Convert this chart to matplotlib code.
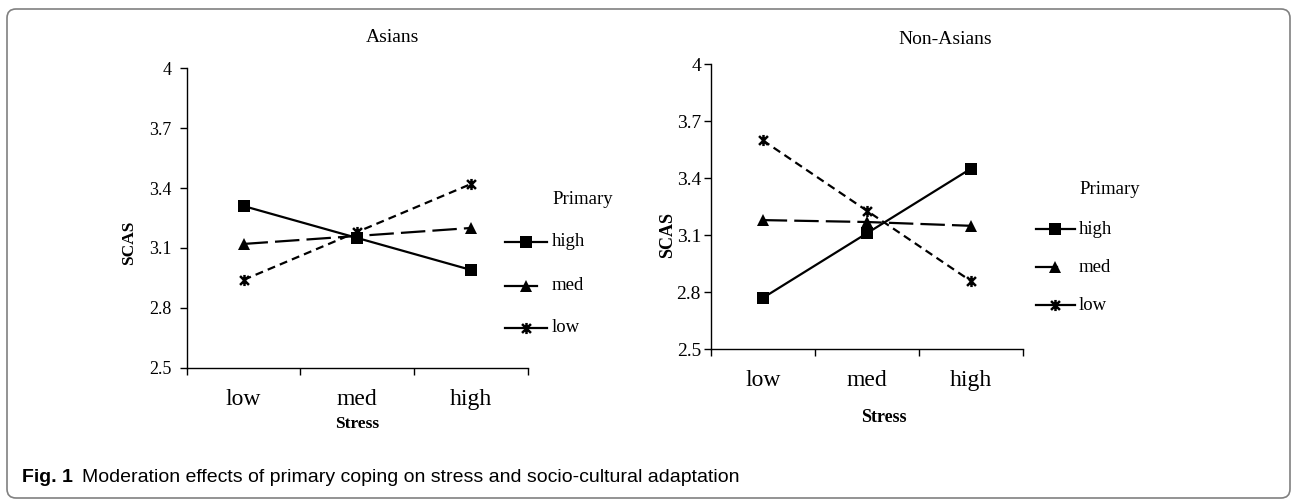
import matplotlib
matplotlib.use("Agg")
import matplotlib.pyplot as plt
from matplotlib.lines import Line2D
from matplotlib.patches import FancyBboxPatch
from matplotlib.path import Path
from matplotlib.transforms import IdentityTransform

# ---------------- data ----------------
stress_levels = ["low", "med", "high"]
primary_levels = ["high", "med", "low"]

asian_high = [3.31, 3.15, 2.99]
asian_med = [3.12, 3.16, 3.20]
asian_low = [2.94, 3.18, 3.42]

nonasian_high = [2.77, 3.11, 3.45]
nonasian_med = [3.18, 3.17, 3.15]
nonasian_low = [3.60, 3.23, 2.86]

y_ticks = [2.5, 2.8, 3.1, 3.4, 3.7, 4.0]
y_tick_labels = ["2.5", "2.8", "3.1", "3.4", "3.7", "4"]

# ---------------- styles ----------------
W, H = 1292, 501
SERIF = "Liberation Serif"
CAP_FONT = "Liberation Sans"

star = Path([(-1, -1), (1, 1), (-1, 1), (1, -1), (0, -1.25), (0, 1.25)],
            [Path.MOVETO, Path.LINETO, Path.MOVETO, Path.LINETO, Path.MOVETO, Path.LINETO])

LW = 1.6
styles = {
    "high": dict(ls="-", marker="s", ms=8, mew=0),
    "med": dict(dashes=(11, 3.2), marker="^", ms=9, mew=0),
    "low": dict(dashes=(3.6, 2.3), marker=star, ms=8, mew=1.8),
}

fig = plt.figure(figsize=(W / 100, H / 100), dpi=100)
plt.rcParams["font.family"] = SERIF


def px_rect(x0, x1, ytop, ybot):
    return [x0 / W, 1 - ybot / H, (x1 - x0) / W, (ybot - ytop) / H]


def draw_panel(rect, series, title_xy, ylabel_xy, xlabel_xy, legend, lab_font,
               ytick_font, ytick_pad, xtick_pad):
    ax = fig.add_axes(rect)
    xs = [i + 0.5 for i in range(len(stress_levels))]
    for name, vals in zip(primary_levels, series):
        st = dict(styles[name])
        ax.plot(xs, vals, color="black", lw=LW, mfc="black", mec="black", **st)
    ax.set_xlim(0, len(stress_levels))
    ax.set_ylim(2.5, 4.0)
    ax.set_yticks(y_ticks)
    ax.set_yticklabels(y_tick_labels, fontsize=ytick_font, fontfamily=SERIF)
    ax.set_xticks(range(len(stress_levels) + 1))
    ax.set_xticklabels([])
    ax.set_xticks(xs, minor=True)
    ax.set_xticklabels(stress_levels, minor=True, fontsize=17, fontfamily=SERIF)
    ax.tick_params(axis="x", which="minor", length=0, pad=xtick_pad)
    ax.tick_params(axis="x", which="major", length=5, width=1, direction="out")
    ax.tick_params(axis="y", length=5, width=1, pad=ytick_pad)
    for s in ("top", "right"):
        ax.spines[s].set_visible(False)
    for s in ("left", "bottom"):
        ax.spines[s].set_linewidth(1)
    # titles and labels
    fig.text(title_xy[0] / W, 1 - title_xy[1] / H, title_xy[2], ha="center", va="center",
             fontsize=14, fontfamily=SERIF)
    fig.text(ylabel_xy[0] / W, 1 - ylabel_xy[1] / H, "SCAS", rotation=90, ha="center",
             va="center", fontsize=lab_font, fontweight="bold", fontfamily=SERIF)
    fig.text(xlabel_xy[0] / W, 1 - xlabel_xy[1] / H, "Stress", ha="center", va="center",
             fontsize=lab_font, fontweight="bold", fontfamily=SERIF)
    # legend (drawn by hand to mirror the Excel legend)
    lx0, lx1, lx1_med, mx, tx, rows = legend
    fig.text(tx / W, 1 - rows[0] / H, "Primary", ha="left", va="center", fontsize=13.5,
             fontfamily=SERIF)
    for name, y in zip(primary_levels, rows[1:]):
        st = styles[name]
        end = lx1_med if name == "med" else lx1
        fig.add_artist(Line2D([lx0 / W, end / W], [1 - y / H, 1 - y / H], color="black",
                              lw=LW, transform=fig.transFigure))
        fig.add_artist(Line2D([mx / W], [1 - y / H], color="black", marker=st["marker"],
                              ms=st["ms"], mew=st["mew"], mfc="black", mec="black",
                              transform=fig.transFigure))
        fig.text(tx / W, 1 - y / H, name, ha="left", va="center", fontsize=13.5,
                 fontfamily=SERIF)
    return ax


draw_panel(px_rect(186.7, 527.7, 68.3, 367.7),
           [asian_high, asian_med, asian_low],
           (392, 37, "Asians"), (129, 243), (357, 424),
           (505, 547, 537, 526, 552, [200, 242, 286, 328]), 12.5,
           13, 6, 15)

draw_panel(px_rect(710.7, 1022.7, 64.3, 349.3),
           [nonasian_high, nonasian_med, nonasian_low],
           (945, 40, "Non-Asians"), (668, 235), (884, 418),
           (1036, 1075, 1057, 1055, 1079, [190, 229, 267, 305]), 13,
           14, 2, 15)

# caption
t1 = fig.text(22 / W, 1 - 478 / H, "Fig. 1", ha="left", va="center", fontsize=14,
              fontweight="bold", fontfamily=CAP_FONT)
fig.canvas.draw()
bb = t1.get_window_extent()
fig.text((bb.x1 + 9) / W, 1 - 478 / H,
         "Moderation effects of primary coping on stress and socio-cultural adaptation",
         ha="left", va="center", fontsize=14, fontfamily=CAP_FONT)

# rounded frame
frame = FancyBboxPatch((7, H - 498), 1283, 489, boxstyle="round,pad=0,rounding_size=9",
                       transform=IdentityTransform(), fill=False, ec="#808080", lw=1.2)
fig.add_artist(frame)

fig.savefig("out.png", dpi=100)
